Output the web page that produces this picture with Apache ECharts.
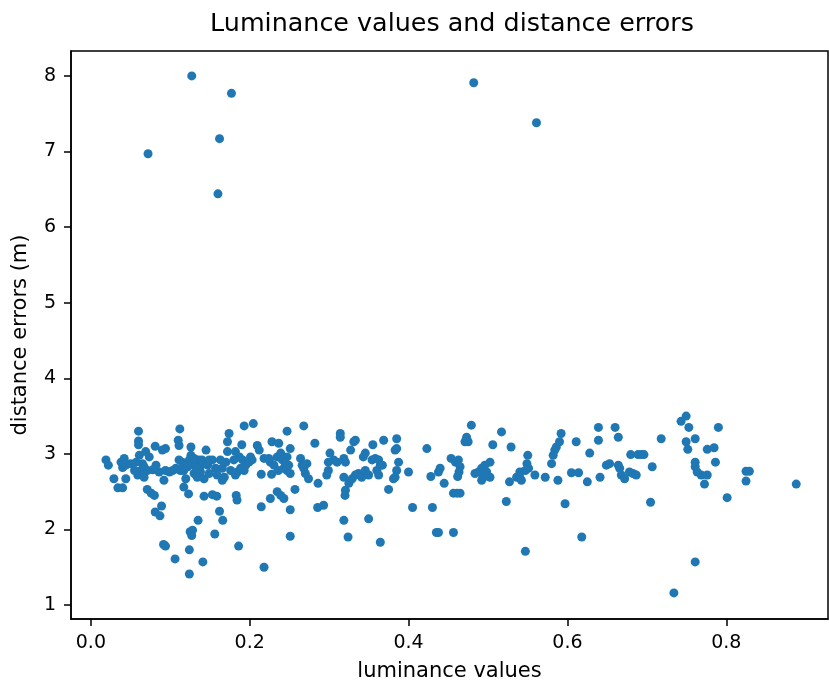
<!DOCTYPE html>
<html><head><meta charset="utf-8">
<script src="https://cdn.jsdelivr.net/npm/echarts@6/dist/echarts.min.js"></script>
<style>html,body{margin:0;padding:0;background:#fff}#c{width:829px;height:686px}</style>
</head><body><div id="c"></div>
<script>
const titleText = 'Luminance values and distance errors';
const xName = 'luminance values';
const yName = 'distance errors (m)';
const xTicks = [0, 0.2, 0.4, 0.6, 0.8];
const yTicks = [1, 2, 3, 4, 5, 6, 7, 8];

// [luminance, distance error]
const outliers = [[0.127,8.00],[0.177,7.77],[0.482,7.91],[0.561,7.38],[0.162,7.17],[0.072,6.97],[0.160,6.44]];
const groupA = [[0.019,2.92],[0.022,2.85],[0.029,2.67],[0.034,2.55],[0.040,2.55],[0.044,2.67],[0.038,2.89],[0.042,2.94],[0.040,2.82],[0.044,2.85],[0.050,2.87],[0.060,3.30],[0.060,3.17],[0.060,3.12],[0.061,2.98],[0.069,3.03],[0.0735,2.96],[0.065,2.87],[0.059,2.72],[0.063,2.78],[0.071,2.78],[0.067,2.69],[0.081,3.10],[0.090,3.05],[0.094,3.07],[0.082,2.85],[0.086,2.76],[0.092,2.65],[0.094,2.78],[0.071,2.53],[0.076,2.48],[0.080,2.45],[0.089,2.31],[0.081,2.23],[0.087,2.18],[0.0915,1.80],[0.094,1.78],[0.106,1.61],[0.112,3.33],[0.110,3.18],[0.111,3.11],[0.103,2.78],[0.111,2.92],[0.115,2.89],[0.117,2.78],[0.122,2.83],[0.126,3.09],[0.126,2.98],[0.128,2.87],[0.130,2.74],[0.134,2.69],[0.138,2.76],[0.1425,2.67],[0.1195,2.67],[0.136,2.92],[0.140,2.92],[0.145,3.05],[0.117,2.56],[0.123,2.47],[0.135,2.12],[0.125,1.97],[0.128,1.99],[0.127,1.92],[0.124,1.73],[0.124,1.41],[0.141,1.57],[0.1425,2.44],[0.153,2.46],[0.1585,2.44],[0.162,2.24],[0.166,2.12],[0.156,1.94],[0.153,2.92],[0.157,2.81],[0.163,2.92],[0.1655,2.81],[0.168,2.69],[0.1655,2.65],[0.172,3.03],[0.172,3.16],[0.174,3.27],[0.176,2.78],[0.180,2.92],[0.182,3.03],[0.1845,2.76],[0.1885,2.81],[0.191,2.92],[0.195,2.85],[0.199,2.89],[0.203,2.92],[0.190,3.12],[0.193,3.37],[0.2045,3.40],[0.2095,3.11],[0.183,2.45],[0.184,2.39],[0.186,1.78],[0.107,2.81],[0.113,2.78],[0.132,2.83],[0.139,2.85],[0.147,2.85],[0.149,2.74],[0.149,2.92],[0.159,2.72],[0.182,2.72],[0.193,2.78],[0.187,2.96],[0.201,2.96],[0.170,2.89],[0.099,2.76],[0.078,2.79],[0.055,2.78],[0.057,2.89],[0.067,2.83],[0.111,2.79],[0.134,2.81],[0.124,2.92],[0.130,2.94]];
const groupB = [[0.247,3.30],[0.268,3.37],[0.212,3.05],[0.228,3.16],[0.2365,3.14],[0.218,2.94],[0.226,2.89],[0.2305,2.85],[0.2346,2.96],[0.239,3.01],[0.241,2.92],[0.243,2.81],[0.245,2.87],[0.247,2.78],[0.249,2.85],[0.251,2.74],[0.251,3.07],[0.236,2.78],[0.2275,2.73],[0.2145,2.73],[0.264,2.94],[0.266,2.85],[0.268,2.81],[0.272,2.87],[0.274,2.67],[0.270,2.74],[0.282,3.14],[0.286,2.61],[0.257,2.53],[0.2346,2.50],[0.239,2.45],[0.243,2.41],[0.226,2.41],[0.2145,2.30],[0.251,2.26],[0.251,1.91],[0.218,1.50],[0.2855,2.29],[0.293,2.32],[0.314,3.27],[0.314,3.22],[0.301,3.01],[0.299,2.89],[0.299,2.78],[0.297,2.72],[0.3057,2.92],[0.310,2.89],[0.3185,2.94],[0.3205,2.89],[0.327,3.05],[0.331,3.16],[0.333,3.18],[0.3185,2.69],[0.3205,2.52],[0.320,2.45],[0.3248,2.61],[0.329,2.67],[0.333,2.72],[0.337,2.74],[0.341,2.69],[0.3455,2.78],[0.3497,2.72],[0.343,2.96],[0.3455,3.01],[0.354,2.92],[0.358,2.94],[0.3623,2.92],[0.3644,2.85],[0.367,2.85],[0.360,2.78],[0.3623,2.72],[0.355,3.12],[0.3686,3.18],[0.385,3.20],[0.385,3.07],[0.383,3.05],[0.3874,2.89],[0.385,2.78],[0.383,2.69],[0.381,2.67],[0.3748,2.53],[0.3185,2.12],[0.3497,2.14],[0.3238,1.90],[0.3644,1.83],[0.3999,2.76],[0.405,2.29],[0.423,3.07],[0.428,2.70],[0.430,2.29],[0.435,1.96],[0.247,2.96],[0.224,2.94]];
const groupC = [[0.4397,2.81],[0.4376,2.76],[0.4448,2.61],[0.4376,1.96],[0.4565,1.96],[0.4535,2.94],[0.459,2.89],[0.4627,2.92],[0.4648,2.83],[0.4635,2.76],[0.4618,2.70],[0.4565,2.48],[0.461,2.48],[0.4648,2.48],[0.479,3.38],[0.471,3.16],[0.473,3.22],[0.475,3.16],[0.4836,2.74],[0.488,2.76],[0.492,2.65],[0.494,2.69],[0.492,2.81],[0.496,2.85],[0.5025,2.89],[0.5025,2.69],[0.4983,2.76],[0.506,3.12],[0.517,3.29],[0.529,3.09],[0.527,2.63],[0.523,2.37],[0.536,2.69],[0.540,2.76],[0.542,2.65],[0.540,2.69],[0.550,2.98],[0.549,2.87],[0.551,2.81],[0.547,2.78],[0.559,2.72],[0.572,2.69],[0.547,1.71],[0.582,2.98],[0.584,3.05],[0.586,3.09],[0.590,3.16],[0.592,3.27],[0.580,2.87],[0.588,2.65],[0.597,2.34],[0.611,3.16],[0.605,2.75],[0.614,2.75],[0.618,1.90],[0.625,2.63],[0.628,3.01],[0.639,3.35],[0.639,3.18],[0.641,2.69],[0.649,2.85],[0.653,2.87],[0.660,3.35],[0.664,3.22],[0.664,2.85]];
const groupD = [[0.6657,2.81],[0.6678,2.72],[0.672,2.67],[0.678,2.76],[0.6825,2.74],[0.6866,2.72],[0.6796,2.99],[0.6887,2.99],[0.693,2.99],[0.6963,2.99],[0.7067,2.83],[0.7046,2.36],[0.718,3.20],[0.743,3.43],[0.7494,3.50],[0.7528,3.35],[0.7494,3.16],[0.7515,3.06],[0.7608,3.20],[0.7608,2.89],[0.7608,2.83],[0.7633,2.76],[0.7684,2.72],[0.776,2.72],[0.7725,2.60],[0.776,3.06],[0.7846,3.08],[0.7863,2.89],[0.790,3.35],[0.801,2.42],[0.8248,2.77],[0.829,2.77],[0.8248,2.64],[0.888,2.60],[0.7608,1.57],[0.734,1.16]];

const points = [].concat(outliers, groupA, groupB, groupC, groupD);
const FONT = 'DejaVu Sans';
const chart = echarts.init(document.getElementById('c'), null, {renderer: 'canvas'});
chart.setOption({
  animation: false,
  backgroundColor: '#fff',
  title: {
    text: titleText, left: 452, top: 12, padding: 0, textAlign: 'center',
    textStyle: {fontFamily: FONT, fontSize: 25.4, fontWeight: 'normal', color: '#000'}
  },
  grid: {left: 71, right: 1, top: 51, bottom: 67, show: true, borderColor: '#000', borderWidth: 1.5,
         backgroundColor: 'transparent', containLabel: false, outerBoundsMode: 'none'},
  xAxis: {
    type: 'value', min: -0.025, max: 0.928,
    name: xName, nameLocation: 'middle', nameGap: 42,
    nameTextStyle: {fontFamily: FONT, fontSize: 21, color: '#000'},
    axisLine: {show: true, onZero: false, lineStyle: {color: '#000', width: 1.5}},
    axisTick: {show: true, length: 7, customValues: xTicks, lineStyle: {color: '#000', width: 1.5}},
    axisLabel: {customValues: xTicks, margin: 15, fontFamily: FONT, fontSize: 19, color: '#000', formatter: v => v.toFixed(1)},
    splitLine: {show: false}
  },
  yAxis: {
    type: 'value', min: 0.815, max: 8.33,
    name: yName, nameLocation: 'middle', nameGap: 40,
    nameTextStyle: {fontFamily: FONT, fontSize: 21, color: '#000'},
    axisLine: {show: true, onZero: false, lineStyle: {color: '#000', width: 1.5}},
    axisTick: {show: true, length: 7, customValues: yTicks, lineStyle: {color: '#000', width: 1.5}},
    axisLabel: {customValues: yTicks, margin: 15, fontFamily: FONT, fontSize: 19, color: '#000', formatter: v => String(Math.round(v))},
    splitLine: {show: false}
  },
  series: [{
    type: 'scatter', data: points, symbol: 'circle', symbolSize: 9,
    itemStyle: {color: '#1f77b4', opacity: 1}
  }]
});
</script></body></html>
